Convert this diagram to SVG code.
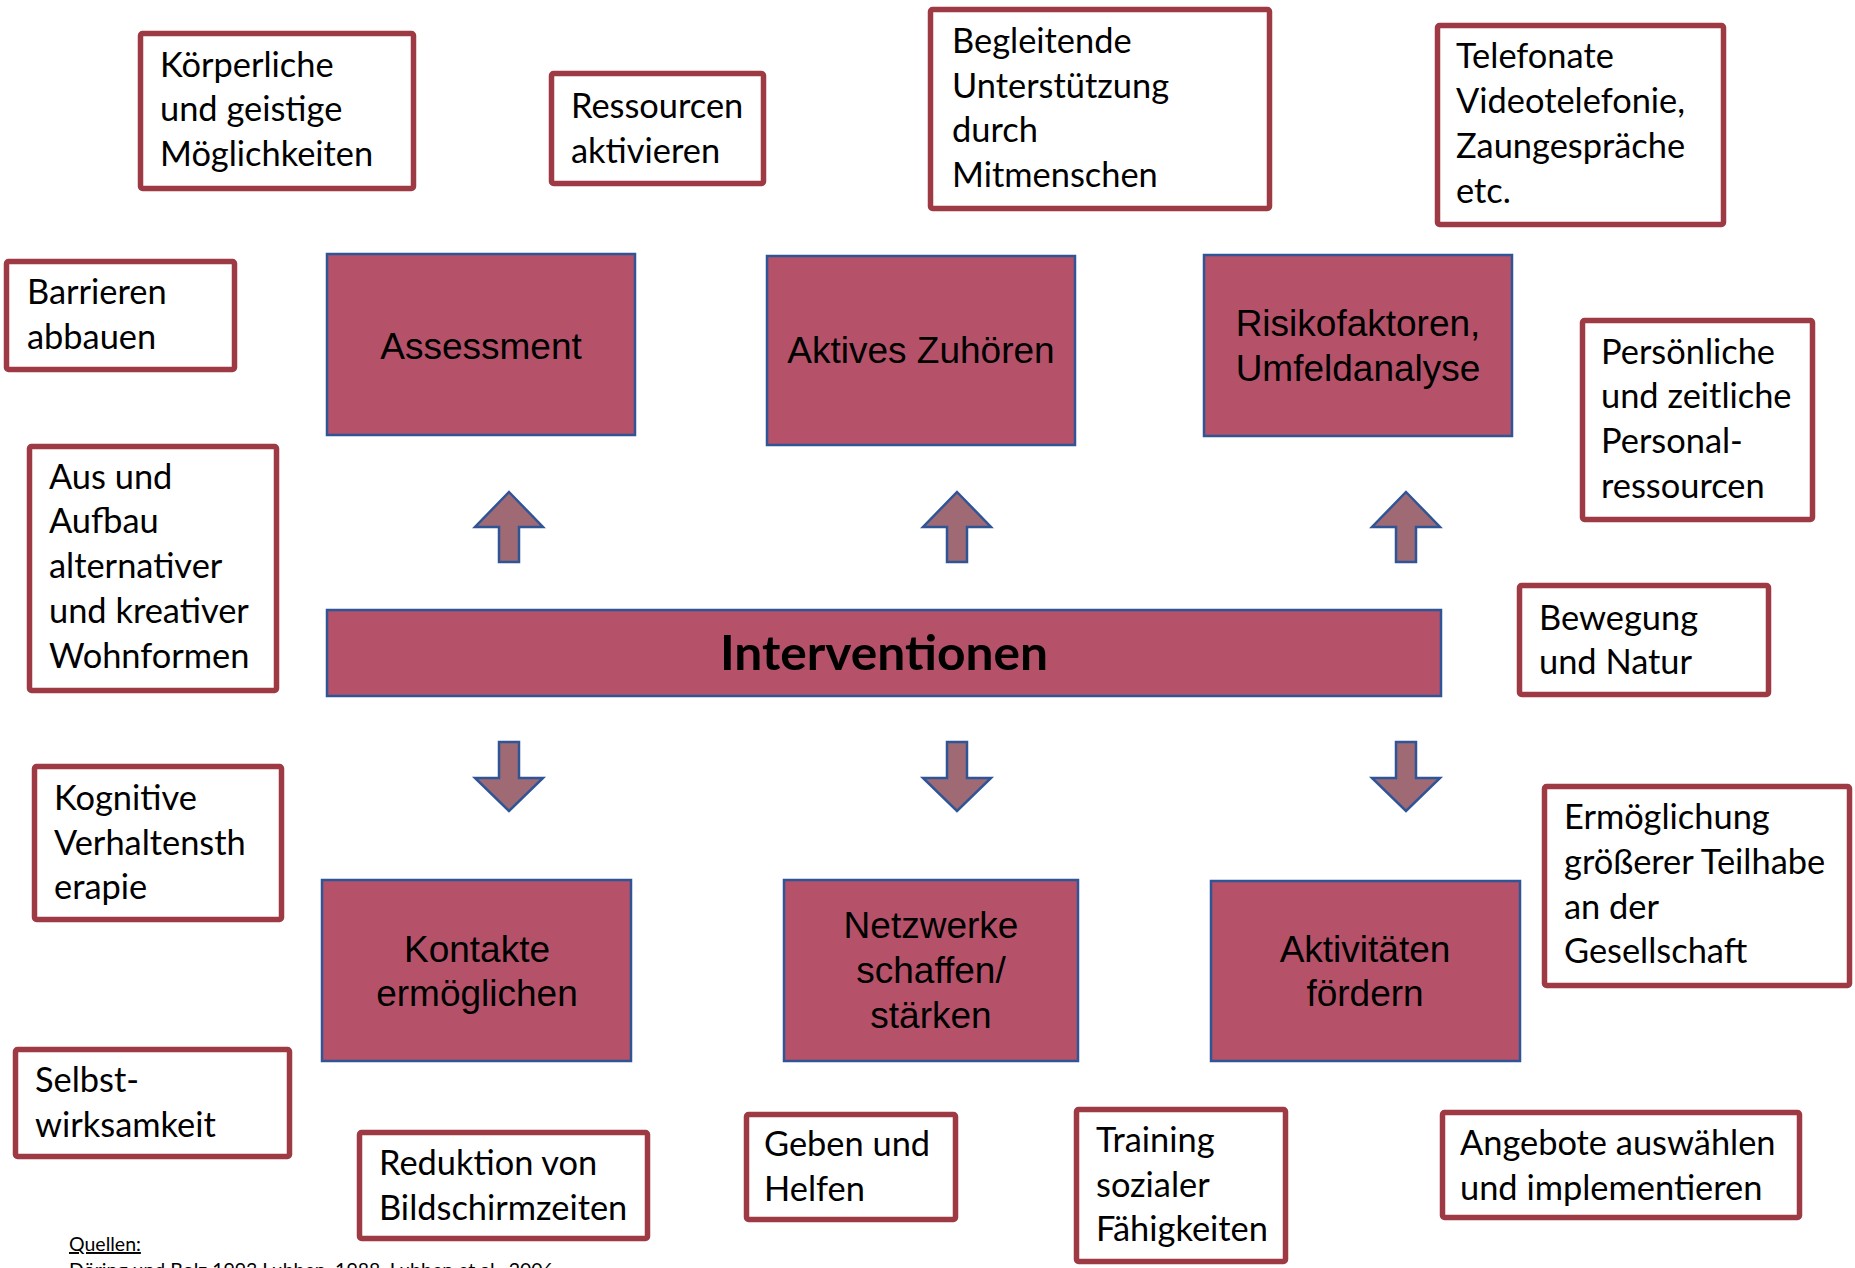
<svg xmlns="http://www.w3.org/2000/svg" xmlns:xlink="http://www.w3.org/1999/xlink" width="1855" height="1268" viewBox="0 0 1855 1268">
<style>
.ob{fill:#ffffff;stroke:#9E3A44;stroke-width:5.5}
.ot{font-family:Lato,"Open Sans",sans-serif;font-size:34.4px;fill:#000}
.fn{fill:#B55269;stroke:#2F5597;stroke-width:2.5}
.ft{font-family:"Liberation Sans",Arial,sans-serif;font-size:37px;fill:#000;text-anchor:middle}
.bt{font-family:Lato,"Open Sans",sans-serif;font-weight:bold;font-size:48px;fill:#000;text-anchor:middle}
.ar{fill:#A06A75;stroke:#2F5597;stroke-width:2.5;stroke-linejoin:miter}
.src{font-family:Lato,"Open Sans",sans-serif;font-size:19.5px;fill:#000}
</style>
<defs>
<path id="up" class="ar" d="M0,0 L34,35 L10,35 L10,70 L-10,70 L-10,35 L-34,35 Z"/>
<path id="down" class="ar" d="M-10,0 L10,0 L10,36 L34,36 L0,69 L-34,36 L-10,36 Z"/>
</defs>

<g id="connectors">
<use xlink:href="#up" x="509" y="492"/>
<use xlink:href="#up" x="957" y="492"/>
<use xlink:href="#up" x="1406" y="492"/>
<use xlink:href="#down" x="509" y="742"/>
<use xlink:href="#down" x="957" y="742"/>
<use xlink:href="#down" x="1406" y="742"/>
</g>

<g id="assessment"><rect class="fn" x="327" y="254" width="308" height="181"/><text class="ft" x="481" y="359">Assessment</text></g>
<g id="aktives-zuhoeren"><rect class="fn" x="767" y="256" width="308" height="189"/><text class="ft" x="921" y="363">Aktives Zuhören</text></g>
<g id="risikofaktoren"><rect class="fn" x="1204" y="255" width="308" height="181"/><text class="ft" x="1358" y="336">Risikofaktoren,</text><text class="ft" x="1358" y="381">Umfeldanalyse</text></g>
<g id="interventionen"><rect class="fn" x="327" y="610" width="1114" height="86"/><text class="bt" x="884" y="670" textLength="328" lengthAdjust="spacingAndGlyphs">Interventionen</text></g>
<g id="kontakte"><rect class="fn" x="322" y="880" width="309" height="181"/><text class="ft" x="477" y="962">Kontakte</text><text class="ft" x="477" y="1006">ermöglichen</text></g>
<g id="netzwerke"><rect class="fn" x="784" y="880" width="294" height="181"/><text class="ft" x="931" y="938">Netzwerke</text><text class="ft" x="931" y="983">schaffen/</text><text class="ft" x="931" y="1028">stärken</text></g>
<g id="aktivitaeten"><rect class="fn" x="1211" y="881" width="309" height="180"/><text class="ft" x="1365" y="962">Aktivitäten</text><text class="ft" x="1365" y="1006">fördern</text></g>

<g id="koerperliche"><rect class="ob" x="140.5" y="33.5" width="273" height="155" rx="2"/><text class="ot" x="160" y="77">Körperliche</text><text class="ot" x="160" y="121">und geistige</text><text class="ot" x="160" y="166">Möglichkeiten</text></g>
<g id="ressourcen"><rect class="ob" x="551.5" y="73.5" width="212" height="110" rx="2"/><text class="ot" x="571" y="118">Ressourcen</text><text class="ot" x="571" y="163">aktivieren</text></g>
<g id="begleitende"><rect class="ob" x="930.5" y="9.5" width="339" height="199" rx="2"/><text class="ot" x="952" y="53">Begleitende</text><text class="ot" x="952" y="98">Unterstützung</text><text class="ot" x="952" y="142">durch</text><text class="ot" x="952" y="187">Mitmenschen</text></g>
<g id="telefonate"><rect class="ob" x="1437.5" y="25.5" width="286" height="199" rx="2"/><text class="ot" x="1456" y="68">Telefonate</text><text class="ot" x="1456" y="113">Videotelefonie,</text><text class="ot" x="1456" y="158">Zaungespräche</text><text class="ot" x="1456" y="203">etc.</text></g>
<g id="barrieren"><rect class="ob" x="6.5" y="261.5" width="228" height="108" rx="2"/><text class="ot" x="27" y="304">Barrieren</text><text class="ot" x="27" y="349">abbauen</text></g>
<g id="wohnformen"><rect class="ob" x="29.5" y="446.5" width="247" height="244" rx="2"/><text class="ot" x="49" y="489">Aus und</text><text class="ot" x="49" y="533">Aufbau</text><text class="ot" x="49" y="578">alternativer</text><text class="ot" x="49" y="623">und kreativer</text><text class="ot" x="49" y="668">Wohnformen</text></g>
<g id="persoenliche"><rect class="ob" x="1582.5" y="320.5" width="230" height="199" rx="2"/><text class="ot" x="1601" y="364">Persönliche</text><text class="ot" x="1601" y="408">und zeitliche</text><text class="ot" x="1601" y="453">Personal-</text><text class="ot" x="1601" y="498">ressourcen</text></g>
<g id="bewegung"><rect class="ob" x="1519.5" y="585.5" width="249" height="109" rx="2"/><text class="ot" x="1539" y="630">Bewegung</text><text class="ot" x="1539" y="674">und Natur</text></g>
<g id="teilhabe"><rect class="ob" x="1544.5" y="786.5" width="305" height="199" rx="2"/><text class="ot" x="1564" y="829">Ermöglichung</text><text class="ot" x="1564" y="874">größerer Teilhabe</text><text class="ot" x="1564" y="919">an der</text><text class="ot" x="1564" y="963">Gesellschaft</text></g>
<g id="kognitive"><rect class="ob" x="34.5" y="766.5" width="247" height="153" rx="2"/><text class="ot" x="54" y="810">Kognitive</text><text class="ot" x="54" y="855">Verhaltensth</text><text class="ot" x="54" y="899">erapie</text></g>
<g id="selbstwirksamkeit"><rect class="ob" x="15.5" y="1049.5" width="274" height="107" rx="2"/><text class="ot" x="35" y="1092">Selbst-</text><text class="ot" x="35" y="1137">wirksamkeit</text></g>
<g id="reduktion"><rect class="ob" x="359.5" y="1132.5" width="288" height="106" rx="2"/><text class="ot" x="379" y="1175">Reduktion von</text><text class="ot" x="379" y="1220">Bildschirmzeiten</text></g>
<g id="geben"><rect class="ob" x="746.5" y="1114.5" width="209" height="105" rx="2"/><text class="ot" x="764" y="1156">Geben und</text><text class="ot" x="764" y="1201">Helfen</text></g>
<g id="training"><rect class="ob" x="1076.5" y="1109.5" width="209" height="152" rx="2"/><text class="ot" x="1096" y="1152">Training</text><text class="ot" x="1096" y="1197">sozialer</text><text class="ot" x="1096" y="1241">Fähigkeiten</text></g>
<g id="angebote"><rect class="ob" x="1442.5" y="1112.5" width="357" height="105" rx="2"/><text class="ot" x="1460" y="1155">Angebote auswählen</text><text class="ot" x="1460" y="1200">und implementieren</text></g>

<g id="quellen">
<text class="src" x="69" y="1251" text-decoration="underline">Quellen:</text>
<text class="src" x="69" y="1277">Döring und Bolz 1993 Lubben, 1988, Lubben et al., 2006</text>
</g>
</svg>
